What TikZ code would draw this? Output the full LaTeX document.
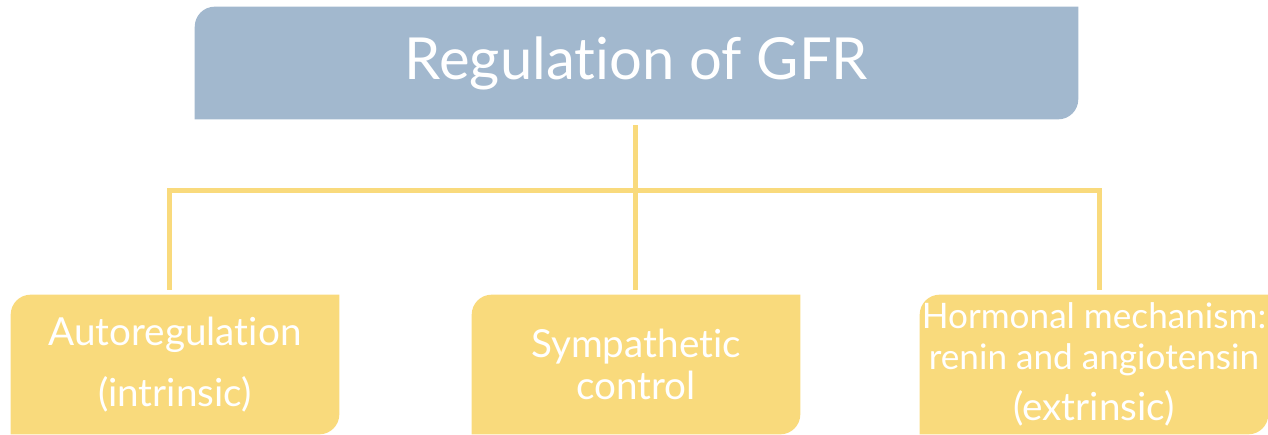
\documentclass[tikz,border=0pt]{standalone}
\usepackage{fontspec}
\setmainfont{Lato}[Ligatures={NoCommon,NoDiscretionary,NoRare}]
\usetikzlibrary{backgrounds}
\definecolor{gfrblue}{HTML}{A2B8CE}
\definecolor{gfryellow}{HTML}{F9DA7C}
\newcommand\rad{0.4cm}
% fill a box with its top left and bottom right corners rounded
\newcommand\cornerfill[2]{%
  \fill[#2] (#1.south west) -- ([yshift=-\rad]#1.north west)
    arc[start angle=180,end angle=90,radius=\rad] -- (#1.north east)
    -- ([yshift=\rad]#1.south east)
    arc[start angle=0,end angle=-90,radius=\rad] -- cycle;}
\tikzset{
  box/.style={inner sep=0pt,text=white,align=center,font=\fontsize{22}{24}\selectfont},
  link/.style={gfryellow,line width=0.1cm}
}
\begin{document}
\begin{tikzpicture}[x=0.02cm,y=0.02cm]
  \useasboundingbox (0,0) rectangle (1268,434);
  \node[box,minimum width=17.66cm,minimum height=2.24cm,font=\fontsize{33}{36}\selectfont] (gfr) at (636.5,371) {Regulation of GFR};
  \node[box,minimum width=6.56cm,minimum height=2.78cm] (auto) at (175,69.5) {Autoregulation\\[11pt](intrinsic)};
  \node[box,minimum width=6.56cm,minimum height=2.78cm] (symp) at (636,69.5) {Sympathetic\\control};
  \node[box,minimum width=6.96cm,minimum height=2.78cm,font=\fontsize{20}{23}\selectfont] (horm) at (1094,69.5) {Hormonal mechanism:\\renin and angiotensin\\[6pt]{\fontsize{22}{24}\selectfont(extrinsic)}};
  \coordinate (hub) at (635,244);

  \begin{pgfonlayer}{background}
    \cornerfill{gfr}{gfrblue}
    \cornerfill{auto}{gfryellow}
    \cornerfill{symp}{gfryellow}
    \cornerfill{horm}{gfryellow}
  \end{pgfonlayer}

  \draw[link,shorten <=0.12cm] (gfr.south -| hub) -- (hub);
  \draw[link,shorten >=0.1cm] (hub) -| ([xshift=-3]auto.north);
  \draw[link,shorten >=0.1cm] (hub) -- (hub |- symp.north);
  \draw[link,shorten >=0.1cm] (hub) -| ([xshift=3]horm.north);
\end{tikzpicture}
\end{document}
